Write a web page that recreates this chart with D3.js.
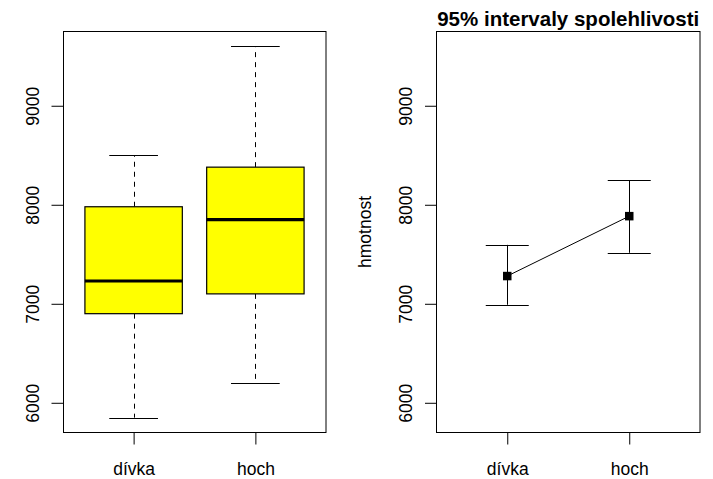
<!DOCTYPE html>
<html>
<head>
<meta charset="utf-8">
<script src="https://cdn.jsdelivr.net/npm/d3@7"></script>
<style>
  html, body { margin: 0; padding: 0; background: #fff; }
  svg { display: block; font-family: "Liberation Sans", Arial, Helvetica, sans-serif; }
</style>
</head>
<body>
<svg id="chart" width="713" height="479"></svg>
<script>
// Categories (sex of the child)
const categories = ["dívka", "hoch"];

// Box plot summary of weight per category
const boxMin    = [5850, 6200];
const boxQ1     = [6900, 7100];
const boxMedian = [7230, 7850];
const boxQ3     = [7980, 8380];
const boxMax    = [8500, 9600];

// Means with 95% confidence intervals
const ciMean  = [7280, 7885];
const ciLower = [6990, 7515];
const ciUpper = [7595, 8250];

// Shared y axis
const yTicks = [6000, 7000, 8000, 9000];
const yDomain = [5700, 9750];

const titleText = "95% intervaly spolehlivosti";
const yLabel = "hmotnost";

const svg = d3.select("#chart");
const fontSize = 17.5;

const panelTop = 31.5, panelBottom = 432.5;
const y = d3.scaleLinear().domain(yDomain).range([panelBottom, panelTop]);

function makePanel(left, right) {
  const g = svg.append("g");
  const x = d3.scaleLinear().domain([0.42, 2.58]).range([left, right]);
  const pos = categories.map((c, i) => x(i + 1));

  // y axis
  const yAxis = d3.axisLeft(y).tickValues(yTicks).tickSize(11.5).tickFormat(d3.format("d"));
  const ya = g.append("g").attr("transform", `translate(${left},0)`).call(yAxis);
  ya.select(".domain").remove();
  ya.selectAll(".tick line").attr("stroke", "#000");
  ya.selectAll(".tick text")
    .attr("font-size", fontSize)
    .attr("font-family", null)
    .attr("fill", "#000")
    .attr("text-anchor", "middle")
    .attr("dy", null)
    .attr("x", null)
    .attr("transform", `translate(${-24.5},0) rotate(-90)`);

  // x axis
  const xAxis = d3.axisBottom(x).tickValues([1, 2]).tickSize(12).tickFormat((d) => categories[d - 1]);
  const xa = g.append("g").attr("transform", `translate(0,${panelBottom})`).call(xAxis);
  xa.select(".domain").remove();
  xa.selectAll(".tick line").attr("stroke", "#000");
  xa.selectAll(".tick text")
    .attr("font-size", fontSize)
    .attr("font-family", null)
    .attr("fill", "#000")
    .attr("dy", null)
    .attr("y", 42.5);

  return { g, x, pos };
}

// Left panel: box plot
const p1 = makePanel(63, 326);
{
  const { g, x } = p1;
  const half = (x(1.4) - x(1)) ;
  const cap = half / 2;
  const grp = g.selectAll(".box").data(categories).enter().append("g").attr("class", "box");

  grp.append("line")
    .attr("x1", (d, i) => Math.round(x(i + 1)) + 0.5).attr("x2", (d, i) => Math.round(x(i + 1)) + 0.5)
    .attr("y1", (d, i) => y(boxQ3[i])).attr("y2", (d, i) => y(boxMax[i]))
    .attr("stroke", "#000").attr("stroke-dasharray", "5,5");
  grp.append("line")
    .attr("x1", (d, i) => Math.round(x(i + 1)) + 0.5).attr("x2", (d, i) => Math.round(x(i + 1)) + 0.5)
    .attr("y1", (d, i) => y(boxQ1[i])).attr("y2", (d, i) => y(boxMin[i]))
    .attr("stroke", "#000").attr("stroke-dasharray", "5,5");
  grp.append("line")
    .attr("x1", (d, i) => x(i + 1) - cap).attr("x2", (d, i) => x(i + 1) + cap)
    .attr("y1", (d, i) => Math.round(y(boxMax[i])) + 0.5).attr("y2", (d, i) => Math.round(y(boxMax[i])) + 0.5)
    .attr("stroke", "#000");
  grp.append("line")
    .attr("x1", (d, i) => x(i + 1) - cap).attr("x2", (d, i) => x(i + 1) + cap)
    .attr("y1", (d, i) => Math.round(y(boxMin[i])) + 0.5).attr("y2", (d, i) => Math.round(y(boxMin[i])) + 0.5)
    .attr("stroke", "#000");
  grp.append("rect")
    .attr("x", (d, i) => x(i + 1) - half).attr("width", 2 * half)
    .attr("y", (d, i) => y(boxQ3[i])).attr("height", (d, i) => y(boxQ1[i]) - y(boxQ3[i]))
    .attr("fill", "#ffff00").attr("stroke", "#000").attr("stroke-width", 1.2);
  grp.append("line")
    .attr("x1", (d, i) => x(i + 1) - half).attr("x2", (d, i) => x(i + 1) + half)
    .attr("y1", (d, i) => y(boxMedian[i])).attr("y2", (d, i) => y(boxMedian[i]))
    .attr("stroke", "#000").attr("stroke-width", 3.2);

  g.append("rect").attr("x", 63.5).attr("y", panelTop).attr("width", 262.5).attr("height", panelBottom - panelTop)
    .attr("fill", "none").attr("stroke", "#000");
}

// Right panel: means with confidence intervals
const p2 = makePanel(436.5, 700);
{
  const { g, x } = p2;
  const cap = 21.5;
  const grp = g.selectAll(".ci").data(categories).enter().append("g").attr("class", "ci");

  grp.append("line")
    .attr("x1", (d, i) => Math.round(x(i + 1)) + 0.5).attr("x2", (d, i) => Math.round(x(i + 1)) + 0.5)
    .attr("y1", (d, i) => y(ciLower[i])).attr("y2", (d, i) => y(ciUpper[i]))
    .attr("stroke", "#000");
  grp.append("line")
    .attr("x1", (d, i) => x(i + 1) - cap).attr("x2", (d, i) => x(i + 1) + cap)
    .attr("y1", (d, i) => Math.round(y(ciUpper[i])) + 0.5).attr("y2", (d, i) => Math.round(y(ciUpper[i])) + 0.5)
    .attr("stroke", "#000");
  grp.append("line")
    .attr("x1", (d, i) => x(i + 1) - cap).attr("x2", (d, i) => x(i + 1) + cap)
    .attr("y1", (d, i) => Math.round(y(ciLower[i])) + 0.5).attr("y2", (d, i) => Math.round(y(ciLower[i])) + 0.5)
    .attr("stroke", "#000");

  const line = d3.line().x((d, i) => x(i + 1)).y((d) => y(d));
  g.append("path").datum(ciMean).attr("d", line).attr("fill", "none").attr("stroke", "#000");

  const s = 8.5;
  g.selectAll(".pt").data(ciMean).enter().append("rect")
    .attr("x", (d, i) => x(i + 1) - s / 2).attr("y", (d) => y(d) - s / 2)
    .attr("width", s).attr("height", s).attr("fill", "#000");

  g.append("rect").attr("x", 436.5).attr("y", panelTop).attr("width", 263.5).attr("height", panelBottom - panelTop)
    .attr("fill", "none").attr("stroke", "#000");

  g.append("text")
    .attr("x", (436.5 + 700) / 2).attr("y", 25.5)
    .attr("text-anchor", "middle").attr("font-weight", "bold").attr("font-size", 20.5)
    .text(titleText);

  g.append("text")
    .attr("transform", `translate(370.5,${(panelTop + panelBottom) / 2}) rotate(-90)`)
    .attr("text-anchor", "middle").attr("font-size", fontSize)
    .text(yLabel);
}
</script>
</body>
</html>
